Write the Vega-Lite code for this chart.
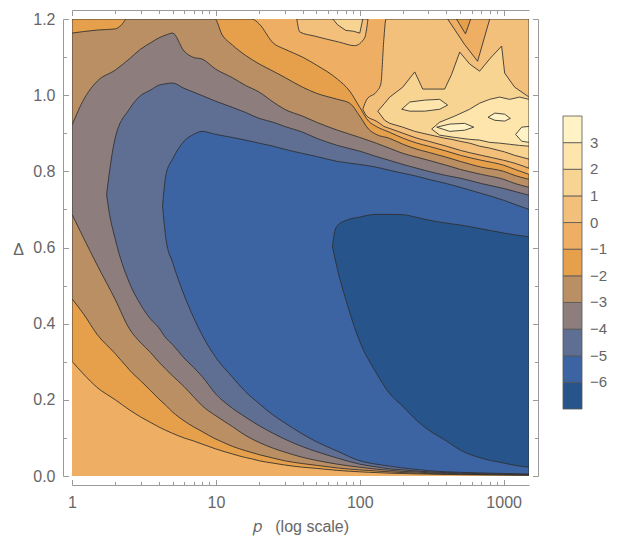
{
  "$schema": "https://vega.github.io/schema/vega-lite/v6.json",
  "width": 457,
  "height": 457,
  "autosize": {"type": "none"},
  "padding": {"left": 72, "top": 19, "right": 96, "bottom": 63},
  "config": {"view": {"stroke": null}, "font": "Liberation Sans"},
  "datasets": {
    "c": [
      {"r":"bg","v":-0.5,"p":1,"lo":0,"hi":1.2},{"r":"bg","v":-0.5,"p":1500,"lo":0,"hi":1.2},

      {"r":"S-1","v":-1.5,"p":1,"lo":0.301,"hi":1.2},
      {"r":"S-1","v":-1.5,"p":1.2,"lo":0.268,"hi":1.2},
      {"r":"S-1","v":-1.5,"p":1.5,"lo":0.232,"hi":1.2},
      {"r":"S-1","v":-1.5,"p":2,"lo":0.2,"hi":1.2},
      {"r":"S-1","v":-1.5,"p":2.5,"lo":0.174,"hi":1.2},
      {"r":"S-1","v":-1.5,"p":3,"lo":0.155,"hi":1.2},
      {"r":"S-1","v":-1.5,"p":3.5,"lo":0.141,"hi":1.2},
      {"r":"S-1","v":-1.5,"p":4,"lo":0.129,"hi":1.2},
      {"r":"S-1","v":-1.5,"p":5,"lo":0.112,"hi":1.2},
      {"r":"S-1","v":-1.5,"p":6,"lo":0.1,"hi":1.2},
      {"r":"S-1","v":-1.5,"p":7,"lo":0.092,"hi":1.2},
      {"r":"S-1","v":-1.5,"p":8,"lo":0.084,"hi":1.2},
      {"r":"S-1","v":-1.5,"p":10,"lo":0.071,"hi":1.2},
      {"r":"S-1","v":-1.5,"p":13,"lo":0.058,"hi":1.2},
      {"r":"S-1","v":-1.5,"p":16,"lo":0.0486,"hi":1.2},
      {"r":"S-1","v":-1.5,"p":17.8,"lo":0.045,"hi":1.2},
      {"r":"S-1","v":-1.5,"p":20,"lo":0.04,"hi":1.187},
      {"r":"S-1","v":-1.5,"p":25,"lo":0.0338,"hi":1.137},
      {"r":"S-1","v":-1.5,"p":30,"lo":0.029,"hi":1.121},
      {"r":"S-1","v":-1.5,"p":40,"lo":0.0231,"hi":1.1},
      {"r":"S-1","v":-1.5,"p":50,"lo":0.02,"hi":1.079},
      {"r":"S-1","v":-1.5,"p":70,"lo":0.0147,"hi":1.042},
      {"r":"S-1","v":-1.5,"p":85,"lo":0.0125,"hi":1.011},
      {"r":"S-1","v":-1.5,"p":100,"lo":0.011,"hi":0.968},
      {"r":"S-1","v":-1.5,"p":115,"lo":0.0098,"hi":0.932},
      {"r":"S-1","v":-1.5,"p":130,"lo":0.009,"hi":0.918},
      {"r":"S-1","v":-1.5,"p":160,"lo":0.0075,"hi":0.903},
      {"r":"S-1","v":-1.5,"p":200,"lo":0.0065,"hi":0.887},
      {"r":"S-1","v":-1.5,"p":250,"lo":0.0055,"hi":0.874},
      {"r":"S-1","v":-1.5,"p":300,"lo":0.005,"hi":0.866},
      {"r":"S-1","v":-1.5,"p":400,"lo":0.004,"hi":0.853},
      {"r":"S-1","v":-1.5,"p":500,"lo":0.0035,"hi":0.842},
      {"r":"S-1","v":-1.5,"p":700,"lo":0.003,"hi":0.829},
      {"r":"S-1","v":-1.5,"p":1000,"lo":0.0025,"hi":0.816},
      {"r":"S-1","v":-1.5,"p":1200,"lo":0.0022,"hi":0.805},
      {"r":"S-1","v":-1.5,"p":1500,"lo":0.002,"hi":0.792},

      {"r":"S-2","v":-2.5,"p":1,"lo":0.465,"hi":1.163},
      {"r":"S-2","v":-2.5,"p":1.2,"lo":0.426,"hi":1.167},
      {"r":"S-2","v":-2.5,"p":1.5,"lo":0.371,"hi":1.171},
      {"r":"S-2","v":-2.5,"p":2,"lo":0.321,"hi":1.174},
      {"r":"S-2","v":-2.5,"p":2.2,"lo":0.303,"hi":1.184},
      {"r":"S-2","v":-2.5,"p":2.4,"lo":0.287,"hi":1.2},
      {"r":"S-2","v":-2.5,"p":2.5,"lo":0.279,"hi":1.2},
      {"r":"S-2","v":-2.5,"p":3,"lo":0.25,"hi":1.2},
      {"r":"S-2","v":-2.5,"p":3.5,"lo":0.225,"hi":1.2},
      {"r":"S-2","v":-2.5,"p":4,"lo":0.203,"hi":1.2},
      {"r":"S-2","v":-2.5,"p":4.5,"lo":0.185,"hi":1.2},
      {"r":"S-2","v":-2.5,"p":5,"lo":0.168,"hi":1.2},
      {"r":"S-2","v":-2.5,"p":6,"lo":0.145,"hi":1.2},
      {"r":"S-2","v":-2.5,"p":7,"lo":0.129,"hi":1.2},
      {"r":"S-2","v":-2.5,"p":8,"lo":0.117,"hi":1.2},
      {"r":"S-2","v":-2.5,"p":9.85,"lo":0.098,"hi":1.2},
      {"r":"S-2","v":-2.5,"p":11,"lo":0.09,"hi":1.16},
      {"r":"S-2","v":-2.5,"p":13,"lo":0.078,"hi":1.132},
      {"r":"S-2","v":-2.5,"p":16,"lo":0.0666,"hi":1.105},
      {"r":"S-2","v":-2.5,"p":20,"lo":0.056,"hi":1.082},
      {"r":"S-2","v":-2.5,"p":25,"lo":0.047,"hi":1.063},
      {"r":"S-2","v":-2.5,"p":30,"lo":0.04,"hi":1.047},
      {"r":"S-2","v":-2.5,"p":40,"lo":0.0326,"hi":1.021},
      {"r":"S-2","v":-2.5,"p":50,"lo":0.028,"hi":1.005},
      {"r":"S-2","v":-2.5,"p":70,"lo":0.0211,"hi":0.989},
      {"r":"S-2","v":-2.5,"p":85,"lo":0.018,"hi":0.979},
      {"r":"S-2","v":-2.5,"p":100,"lo":0.016,"hi":0.945},
      {"r":"S-2","v":-2.5,"p":115,"lo":0.0145,"hi":0.911},
      {"r":"S-2","v":-2.5,"p":130,"lo":0.013,"hi":0.897},
      {"r":"S-2","v":-2.5,"p":160,"lo":0.011,"hi":0.887},
      {"r":"S-2","v":-2.5,"p":200,"lo":0.009,"hi":0.871},
      {"r":"S-2","v":-2.5,"p":250,"lo":0.0075,"hi":0.858},
      {"r":"S-2","v":-2.5,"p":300,"lo":0.0065,"hi":0.85},
      {"r":"S-2","v":-2.5,"p":400,"lo":0.0053,"hi":0.837},
      {"r":"S-2","v":-2.5,"p":500,"lo":0.0045,"hi":0.826},
      {"r":"S-2","v":-2.5,"p":700,"lo":0.0038,"hi":0.811},
      {"r":"S-2","v":-2.5,"p":1000,"lo":0.0033,"hi":0.8},
      {"r":"S-2","v":-2.5,"p":1200,"lo":0.003,"hi":0.789},
      {"r":"S-2","v":-2.5,"p":1500,"lo":0.0027,"hi":0.779},

      {"r":"S-3","v":-3.5,"p":1,"lo":0.687,"hi":0.921},
      {"r":"S-3","v":-3.5,"p":1.2,"lo":0.626,"hi":0.987},
      {"r":"S-3","v":-3.5,"p":1.5,"lo":0.553,"hi":1.037},
      {"r":"S-3","v":-3.5,"p":2,"lo":0.463,"hi":1.066},
      {"r":"S-3","v":-3.5,"p":2.5,"lo":0.387,"hi":1.095},
      {"r":"S-3","v":-3.5,"p":3,"lo":0.35,"hi":1.121},
      {"r":"S-3","v":-3.5,"p":3.5,"lo":0.325,"hi":1.137},
      {"r":"S-3","v":-3.5,"p":4,"lo":0.3,"hi":1.15},
      {"r":"S-3","v":-3.5,"p":4.5,"lo":0.28,"hi":1.158},
      {"r":"S-3","v":-3.5,"p":5,"lo":0.263,"hi":1.163},
      {"r":"S-3","v":-3.5,"p":6,"lo":0.235,"hi":1.116},
      {"r":"S-3","v":-3.5,"p":7,"lo":0.208,"hi":1.099},
      {"r":"S-3","v":-3.5,"p":8,"lo":0.185,"hi":1.095},
      {"r":"S-3","v":-3.5,"p":10,"lo":0.158,"hi":1.068},
      {"r":"S-3","v":-3.5,"p":13,"lo":0.13,"hi":1.046},
      {"r":"S-3","v":-3.5,"p":16,"lo":0.107,"hi":1.026},
      {"r":"S-3","v":-3.5,"p":20,"lo":0.088,"hi":1.008},
      {"r":"S-3","v":-3.5,"p":25,"lo":0.073,"hi":0.982},
      {"r":"S-3","v":-3.5,"p":30,"lo":0.063,"hi":0.963},
      {"r":"S-3","v":-3.5,"p":40,"lo":0.049,"hi":0.945},
      {"r":"S-3","v":-3.5,"p":50,"lo":0.041,"hi":0.929},
      {"r":"S-3","v":-3.5,"p":70,"lo":0.031,"hi":0.908},
      {"r":"S-3","v":-3.5,"p":100,"lo":0.023,"hi":0.889},
      {"r":"S-3","v":-3.5,"p":130,"lo":0.018,"hi":0.874},
      {"r":"S-3","v":-3.5,"p":160,"lo":0.015,"hi":0.861},
      {"r":"S-3","v":-3.5,"p":200,"lo":0.012,"hi":0.847},
      {"r":"S-3","v":-3.5,"p":250,"lo":0.0105,"hi":0.837},
      {"r":"S-3","v":-3.5,"p":300,"lo":0.0085,"hi":0.829},
      {"r":"S-3","v":-3.5,"p":400,"lo":0.007,"hi":0.816},
      {"r":"S-3","v":-3.5,"p":500,"lo":0.006,"hi":0.805},
      {"r":"S-3","v":-3.5,"p":700,"lo":0.005,"hi":0.792},
      {"r":"S-3","v":-3.5,"p":1000,"lo":0.0042,"hi":0.779},
      {"r":"S-3","v":-3.5,"p":1200,"lo":0.0038,"hi":0.768},
      {"r":"S-3","v":-3.5,"p":1500,"lo":0.0034,"hi":0.758},

      {"r":"S-4","v":-4.5,"p":1.74,"lo":0.739,"hi":0.739},
      {"r":"S-4","v":-4.5,"p":1.8,"lo":0.7,"hi":0.784},
      {"r":"S-4","v":-4.5,"p":2,"lo":0.621,"hi":0.889},
      {"r":"S-4","v":-4.5,"p":2.5,"lo":0.508,"hi":0.963},
      {"r":"S-4","v":-4.5,"p":3,"lo":0.45,"hi":0.999},
      {"r":"S-4","v":-4.5,"p":3.5,"lo":0.413,"hi":1.013},
      {"r":"S-4","v":-4.5,"p":4,"lo":0.39,"hi":1.026},
      {"r":"S-4","v":-4.5,"p":4.5,"lo":0.362,"hi":1.03},
      {"r":"S-4","v":-4.5,"p":5,"lo":0.345,"hi":1.032},
      {"r":"S-4","v":-4.5,"p":6,"lo":0.31,"hi":1.018},
      {"r":"S-4","v":-4.5,"p":7,"lo":0.285,"hi":1.008},
      {"r":"S-4","v":-4.5,"p":8,"lo":0.262,"hi":0.999},
      {"r":"S-4","v":-4.5,"p":10,"lo":0.215,"hi":0.984},
      {"r":"S-4","v":-4.5,"p":13,"lo":0.178,"hi":0.968},
      {"r":"S-4","v":-4.5,"p":16,"lo":0.155,"hi":0.955},
      {"r":"S-4","v":-4.5,"p":20,"lo":0.132,"hi":0.939},
      {"r":"S-4","v":-4.5,"p":25,"lo":0.112,"hi":0.929},
      {"r":"S-4","v":-4.5,"p":30,"lo":0.097,"hi":0.918},
      {"r":"S-4","v":-4.5,"p":40,"lo":0.077,"hi":0.903},
      {"r":"S-4","v":-4.5,"p":50,"lo":0.064,"hi":0.887},
      {"r":"S-4","v":-4.5,"p":70,"lo":0.047,"hi":0.868},
      {"r":"S-4","v":-4.5,"p":100,"lo":0.031,"hi":0.853},
      {"r":"S-4","v":-4.5,"p":130,"lo":0.024,"hi":0.839},
      {"r":"S-4","v":-4.5,"p":160,"lo":0.019,"hi":0.829},
      {"r":"S-4","v":-4.5,"p":200,"lo":0.016,"hi":0.818},
      {"r":"S-4","v":-4.5,"p":250,"lo":0.013,"hi":0.808},
      {"r":"S-4","v":-4.5,"p":300,"lo":0.011,"hi":0.8},
      {"r":"S-4","v":-4.5,"p":400,"lo":0.0088,"hi":0.789},
      {"r":"S-4","v":-4.5,"p":500,"lo":0.0075,"hi":0.782},
      {"r":"S-4","v":-4.5,"p":700,"lo":0.006,"hi":0.768},
      {"r":"S-4","v":-4.5,"p":1000,"lo":0.0052,"hi":0.755},
      {"r":"S-4","v":-4.5,"p":1200,"lo":0.0047,"hi":0.747},
      {"r":"S-4","v":-4.5,"p":1500,"lo":0.0042,"hi":0.737},

      {"r":"S-5","v":-5.5,"p":4.26,"lo":0.709,"hi":0.709},
      {"r":"S-5","v":-5.5,"p":4.5,"lo":0.621,"hi":0.792},
      {"r":"S-5","v":-5.5,"p":5,"lo":0.561,"hi":0.832},
      {"r":"S-5","v":-5.5,"p":6,"lo":0.476,"hi":0.879},
      {"r":"S-5","v":-5.5,"p":7,"lo":0.416,"hi":0.897},
      {"r":"S-5","v":-5.5,"p":8,"lo":0.371,"hi":0.905},
      {"r":"S-5","v":-5.5,"p":10,"lo":0.311,"hi":0.897},
      {"r":"S-5","v":-5.5,"p":13,"lo":0.26,"hi":0.889},
      {"r":"S-5","v":-5.5,"p":16,"lo":0.222,"hi":0.882},
      {"r":"S-5","v":-5.5,"p":20,"lo":0.19,"hi":0.874},
      {"r":"S-5","v":-5.5,"p":25,"lo":0.16,"hi":0.866},
      {"r":"S-5","v":-5.5,"p":30,"lo":0.14,"hi":0.858},
      {"r":"S-5","v":-5.5,"p":40,"lo":0.11,"hi":0.847},
      {"r":"S-5","v":-5.5,"p":50,"lo":0.09,"hi":0.839},
      {"r":"S-5","v":-5.5,"p":70,"lo":0.065,"hi":0.826},
      {"r":"S-5","v":-5.5,"p":100,"lo":0.04,"hi":0.818},
      {"r":"S-5","v":-5.5,"p":130,"lo":0.031,"hi":0.811},
      {"r":"S-5","v":-5.5,"p":160,"lo":0.026,"hi":0.803},
      {"r":"S-5","v":-5.5,"p":200,"lo":0.021,"hi":0.795},
      {"r":"S-5","v":-5.5,"p":250,"lo":0.017,"hi":0.787},
      {"r":"S-5","v":-5.5,"p":300,"lo":0.014,"hi":0.779},
      {"r":"S-5","v":-5.5,"p":400,"lo":0.011,"hi":0.768},
      {"r":"S-5","v":-5.5,"p":500,"lo":0.0095,"hi":0.758},
      {"r":"S-5","v":-5.5,"p":700,"lo":0.008,"hi":0.742},
      {"r":"S-5","v":-5.5,"p":1000,"lo":0.0066,"hi":0.724},
      {"r":"S-5","v":-5.5,"p":1200,"lo":0.006,"hi":0.713},
      {"r":"S-5","v":-5.5,"p":1500,"lo":0.0052,"hi":0.7},

      {"r":"S-6","v":-6.5,"p":64.6,"lo":0.603,"hi":0.603},
      {"r":"S-6","v":-6.5,"p":67,"lo":0.574,"hi":0.642},
      {"r":"S-6","v":-6.5,"p":70,"lo":0.542,"hi":0.658},
      {"r":"S-6","v":-6.5,"p":80,"lo":0.463,"hi":0.671},
      {"r":"S-6","v":-6.5,"p":100,"lo":0.353,"hi":0.68},
      {"r":"S-6","v":-6.5,"p":130,"lo":0.271,"hi":0.687},
      {"r":"S-6","v":-6.5,"p":160,"lo":0.218,"hi":0.687},
      {"r":"S-6","v":-6.5,"p":200,"lo":0.182,"hi":0.686},
      {"r":"S-6","v":-6.5,"p":250,"lo":0.145,"hi":0.679},
      {"r":"S-6","v":-6.5,"p":300,"lo":0.121,"hi":0.672},
      {"r":"S-6","v":-6.5,"p":400,"lo":0.092,"hi":0.664},
      {"r":"S-6","v":-6.5,"p":500,"lo":0.068,"hi":0.659},
      {"r":"S-6","v":-6.5,"p":700,"lo":0.047,"hi":0.649},
      {"r":"S-6","v":-6.5,"p":1000,"lo":0.034,"hi":0.638},
      {"r":"S-6","v":-6.5,"p":1200,"lo":0.028,"hi":0.633},
      {"r":"S-6","v":-6.5,"p":1500,"lo":0.023,"hi":0.628},

      {"r":"T0","v":0.5,"p":105,"lo":0.963,"hi":0.963},
      {"r":"T0","v":0.5,"p":112,"lo":0.945,"hi":0.989},
      {"r":"T0","v":0.5,"p":130,"lo":0.932,"hi":1.008},
      {"r":"T0","v":0.5,"p":140,"lo":0.924,"hi":1.029},
      {"r":"T0","v":0.5,"p":147,"lo":0.918,"hi":1.147},
      {"r":"T0","v":0.5,"p":152,"lo":0.916,"hi":1.2},
      {"r":"T0","v":0.5,"p":160,"lo":0.913,"hi":1.2},
      {"r":"T0","v":0.5,"p":200,"lo":0.9,"hi":1.2},
      {"r":"T0","v":0.5,"p":250,"lo":0.887,"hi":1.2},
      {"r":"T0","v":0.5,"p":300,"lo":0.879,"hi":1.2},
      {"r":"T0","v":0.5,"p":400,"lo":0.866,"hi":1.2},
      {"r":"T0","v":0.5,"p":500,"lo":0.855,"hi":1.2},
      {"r":"T0","v":0.5,"p":700,"lo":0.842,"hi":1.2},
      {"r":"T0","v":0.5,"p":1000,"lo":0.829,"hi":1.2},
      {"r":"T0","v":0.5,"p":1200,"lo":0.821,"hi":1.2},
      {"r":"T0","v":0.5,"p":1500,"lo":0.808,"hi":1.2},

      {"r":"T0b","v":0.5,"p":36.5,"lo":1.2,"hi":1.2},
      {"r":"T0b","v":0.5,"p":38.3,"lo":1.166,"hi":1.2},
      {"r":"T0b","v":0.5,"p":48.7,"lo":1.155,"hi":1.2},
      {"r":"T0b","v":0.5,"p":58.9,"lo":1.147,"hi":1.2},
      {"r":"T0b","v":0.5,"p":72.5,"lo":1.139,"hi":1.2},
      {"r":"T0b","v":0.5,"p":92,"lo":1.13,"hi":1.2},
      {"r":"T0b","v":0.5,"p":108,"lo":1.15,"hi":1.2},
      {"r":"T0b","v":0.5,"p":114,"lo":1.2,"hi":1.2},

      {"r":"T1","v":1.5,"p":133.4,"lo":0.958,"hi":0.958},
      {"r":"T1","v":1.5,"p":149,"lo":0.934,"hi":0.979},
      {"r":"T1","v":1.5,"p":161.6,"lo":0.926,"hi":0.995},
      {"r":"T1","v":1.5,"p":199,"lo":0.916,"hi":1.021},
      {"r":"T1","v":1.5,"p":241,"lo":0.905,"hi":1.061},
      {"r":"T1","v":1.5,"p":274,"lo":0.9,"hi":1.016},
      {"r":"T1","v":1.5,"p":389,"lo":0.887,"hi":1.016},
      {"r":"T1","v":1.5,"p":435,"lo":0.884,"hi":1.055},
      {"r":"T1","v":1.5,"p":495,"lo":0.879,"hi":1.113},
      {"r":"T1","v":1.5,"p":580,"lo":0.874,"hi":1.082},
      {"r":"T1","v":1.5,"p":681,"lo":0.866,"hi":1.063},
      {"r":"T1","v":1.5,"p":799,"lo":0.861,"hi":1.095},
      {"r":"T1","v":1.5,"p":968,"lo":0.853,"hi":1.129},
      {"r":"T1","v":1.5,"p":1016,"lo":0.851,"hi":1.058},
      {"r":"T1","v":1.5,"p":1192,"lo":0.842,"hi":1.021},
      {"r":"T1","v":1.5,"p":1500,"lo":0.832,"hi":0.995},

      {"r":"T1b","v":1.5,"p":65,"lo":1.2,"hi":1.2},
      {"r":"T1b","v":1.5,"p":70,"lo":1.185,"hi":1.2},
      {"r":"T1b","v":1.5,"p":80,"lo":1.17,"hi":1.2},
      {"r":"T1b","v":1.5,"p":90,"lo":1.168,"hi":1.2},
      {"r":"T1b","v":1.5,"p":100,"lo":1.163,"hi":1.2},
      {"r":"T1b","v":1.5,"p":105,"lo":1.2,"hi":1.2},

      {"r":"V","v":-0.5,"p":408,"lo":1.2,"hi":1.2},
      {"r":"V","v":-0.5,"p":533,"lo":1.134,"hi":1.2},
      {"r":"V","v":-0.5,"p":659,"lo":1.089,"hi":1.2},
      {"r":"V","v":-0.5,"p":800,"lo":1.2,"hi":1.2},

      {"r":"Vs","v":-1.5,"p":470,"lo":1.2,"hi":1.2},
      {"r":"Vs","v":-1.5,"p":543,"lo":1.161,"hi":1.2},
      {"r":"Vs","v":-1.5,"p":590,"lo":1.2,"hi":1.2},

      {"r":"T2a","v":2.5,"p":195.7,"lo":0.963,"hi":0.963},
      {"r":"T2a","v":2.5,"p":222.5,"lo":0.958,"hi":0.982},
      {"r":"T2a","v":2.5,"p":282.6,"lo":0.958,"hi":0.987},
      {"r":"T2a","v":2.5,"p":359.4,"lo":0.963,"hi":0.989},
      {"r":"T2a","v":2.5,"p":408,"lo":0.974,"hi":0.974},

      {"r":"T2b","v":2.5,"p":316,"lo":0.911,"hi":0.911},
      {"r":"T2b","v":2.5,"p":359,"lo":0.895,"hi":0.929},
      {"r":"T2b","v":2.5,"p":457,"lo":0.889,"hi":0.945},
      {"r":"T2b","v":2.5,"p":580,"lo":0.884,"hi":0.963},
      {"r":"T2b","v":2.5,"p":681,"lo":0.882,"hi":0.979},
      {"r":"T2b","v":2.5,"p":799,"lo":0.876,"hi":0.989},
      {"r":"T2b","v":2.5,"p":937,"lo":0.874,"hi":0.995},
      {"r":"T2b","v":2.5,"p":1101,"lo":0.871,"hi":0.989},
      {"r":"T2b","v":2.5,"p":1291,"lo":0.868,"hi":0.995},
      {"r":"T2b","v":2.5,"p":1500,"lo":0.866,"hi":0.989},

      {"r":"T3a","v":3.5,"p":778,"lo":0.942,"hi":0.942},
      {"r":"T3a","v":3.5,"p":869,"lo":0.934,"hi":0.953},
      {"r":"T3a","v":3.5,"p":1016,"lo":0.932,"hi":0.95},
      {"r":"T3a","v":3.5,"p":1113,"lo":0.939,"hi":0.939},
      {"r":"T3b","v":3.5,"p":342.7,"lo":0.916,"hi":0.916},
      {"r":"T3b","v":3.5,"p":421.7,"lo":0.905,"hi":0.924},
      {"r":"T3b","v":3.5,"p":535.8,"lo":0.908,"hi":0.926},
      {"r":"T3b","v":3.5,"p":619,"lo":0.916,"hi":0.916},
      {"r":"T3c","v":3.5,"p":1211,"lo":0.897,"hi":0.897},
      {"r":"T3c","v":3.5,"p":1334,"lo":0.879,"hi":0.916},
      {"r":"T3c","v":3.5,"p":1500,"lo":0.876,"hi":0.918}
    ]
  },
  "data": {"name": "c"},
  "resolve": {"axis": {"x": "independent", "y": "independent"}},
  "layer": [
    {
      "encoding": {
        "x": {
          "field": "p", "type": "quantitative",
          "scale": {"type": "log", "domain": [1, 1500], "nice": false, "zero": false},
          "axis": {
            "orient": "bottom",
            "values": [1, 10, 100, 1000],
            "format": "d",
            "ticks": false, "domain": false, "labelPadding": 9, "offset": 9,
            "labelColor": "#666", "labelFont": "Liberation Sans", "labelFontSize": 16,
            "labelFlush": false, "labelOverlap": false, "grid": false,
            "title": "𝑝\u00a0\u00a0\u00a0(log scale)", "titleFont": "Liberation Sans", "titleFontSize": 16,
            "titleFontWeight": "normal", "titleColor": "#666", "titlePadding": 8
          }
        },
        "y": {
          "field": "lo", "type": "quantitative",
          "scale": {"domain": [0, 1.2], "nice": false, "zero": false},
          "axis": {
            "orient": "left",
            "values": [0, 0.2, 0.4, 0.6, 0.8, 1, 1.2],
            "format": ".1f",
            "ticks": false, "domain": false, "labelPadding": 8, "offset": 9,
            "labelColor": "#666", "labelFont": "Liberation Sans", "labelFontSize": 16,
            "labelOverlap": false, "grid": false,
            "title": "Δ", "titleAngle": 0, "titleFont": "Liberation Sans", "titleFontSize": 16,
            "titleFontWeight": "normal", "titleColor": "#666",
            "titleAlign": "center", "titleBaseline": "middle", "titleX": -45, "titleY": 230
          }
        },
        "y2": {"field": "hi"},
        "detail": {"field": "r"},
        "color": {
          "field": "v", "type": "quantitative",
          "scale": {
            "type": "threshold",
            "domain": [-6,-5,-4,-3,-2,-1,0,1,2,3],
            "range": ["#27558b","#3c63a2","#5f6e93","#8d7e7d","#ba8f64","#e6a04b","#eeaf64","#f3c07c","#f8d493","#fde5ab","#fff2c4"]
          },
          "legend": {
            "type": "gradient", "orient": "none", "legendX": 491, "legendY": 97,
            "direction": "vertical", "gradientLength": 293, "gradientThickness": 19,
            "title": null, "labelFontSize": 15, "labelColor": "#666", "labelFont": "Liberation Sans",
            "labelExpr": "datum.label ? replace(datum.label, '-', '\u2212') : ''",
            "labelOffset": 8, "gradientStrokeColor": "#555", "gradientStrokeWidth": 0.8
          }
        }
      },
      "layer": [
        {"transform": [{"filter": {"field": "r", "equal": "bg"}}], "mark": {"type": "area", "clip": true}},
        {"transform": [{"filter": {"field": "r", "equal": "S-1"}}], "mark": {"type": "area", "clip": true, "interpolate": "monotone", "stroke": "#2e2e2e", "strokeWidth": 1, "strokeOpacity": 0.85}},
        {"transform": [{"filter": {"field": "r", "equal": "S-2"}}], "mark": {"type": "area", "clip": true, "interpolate": "monotone", "stroke": "#2e2e2e", "strokeWidth": 1, "strokeOpacity": 0.85}},
        {"transform": [{"filter": {"field": "r", "equal": "S-3"}}], "mark": {"type": "area", "clip": true, "interpolate": "monotone", "stroke": "#2e2e2e", "strokeWidth": 1, "strokeOpacity": 0.85}},
        {"transform": [{"filter": {"field": "r", "equal": "S-4"}}], "mark": {"type": "area", "clip": true, "interpolate": "monotone", "stroke": "#2e2e2e", "strokeWidth": 1, "strokeOpacity": 0.85}},
        {"transform": [{"filter": {"field": "r", "equal": "S-5"}}], "mark": {"type": "area", "clip": true, "interpolate": "monotone", "stroke": "#2e2e2e", "strokeWidth": 1, "strokeOpacity": 0.85}},
        {"transform": [{"filter": {"field": "r", "equal": "S-6"}}], "mark": {"type": "area", "clip": true, "interpolate": "monotone", "stroke": "#2e2e2e", "strokeWidth": 1, "strokeOpacity": 0.85}},
        {"transform": [{"filter": {"field": "r", "oneOf": ["T0", "T0b"]}}], "mark": {"type": "area", "clip": true, "interpolate": "monotone", "stroke": "#2e2e2e", "strokeWidth": 1, "strokeOpacity": 0.85}},
        {"transform": [{"filter": {"field": "r", "oneOf": ["T1", "T1b", "V"]}}], "mark": {"type": "area", "clip": true, "interpolate": "linear", "stroke": "#2e2e2e", "strokeWidth": 1, "strokeOpacity": 0.85}},
        {"transform": [{"filter": {"field": "r", "oneOf": ["Vs", "T2a", "T2b"]}}], "mark": {"type": "area", "clip": true, "interpolate": "linear", "stroke": "#2e2e2e", "strokeWidth": 1, "strokeOpacity": 0.85}},
        {"transform": [{"filter": {"field": "r", "oneOf": ["T3a", "T3b", "T3c"]}}], "mark": {"type": "area", "clip": true, "interpolate": "linear", "stroke": "#2e2e2e", "strokeWidth": 1, "strokeOpacity": 0.85}}
      ]
    },
    {
      "transform": [{"filter": {"field": "r", "equal": "bg"}}],
      "mark": {"type": "area", "opacity": 0},
      "encoding": {
        "x": {
          "field": "p", "type": "quantitative",
          "scale": {"type": "log", "domain": [1, 1500], "nice": false, "zero": false},
          "axis": {"orient": "top", "offset": -466, "values": [1, 10, 100, 1000], "labels": false, "tickSize": 5.5, "domain": true, "domainColor": "#9a9a9a", "tickColor": "#9a9a9a", "grid": false, "title": null}
        },
        "y": {
          "field": "lo", "type": "quantitative",
          "scale": {"domain": [0, 1.2], "nice": false, "zero": false},
          "axis": {"orient": "right", "offset": -466, "values": [0, 0.2, 0.4, 0.6, 0.8, 1, 1.2], "labels": false, "tickSize": 5.5, "domain": true, "domainColor": "#9a9a9a", "tickColor": "#9a9a9a", "grid": false, "title": null}
        },
        "y2": {"field": "hi"}
      }
    },
    {
      "transform": [{"filter": {"field": "r", "equal": "bg"}}],
      "mark": {"type": "area", "opacity": 0},
      "encoding": {
        "x": {
          "field": "p", "type": "quantitative",
          "scale": {"type": "log", "domain": [1, 1500], "nice": false, "zero": false},
          "axis": {"orient": "top", "offset": -466, "values": [2,3,4,5,6,7,8,9,20,30,40,50,60,70,80,90,200,300,400,500,600,700,800,900], "labels": false, "tickSize": 3.5, "domain": false, "tickColor": "#9a9a9a", "grid": false, "title": null}
        },
        "y": {
          "field": "lo", "type": "quantitative",
          "scale": {"domain": [0, 1.2], "nice": false, "zero": false},
          "axis": {"orient": "right", "offset": -466, "values": [0.1, 0.3, 0.5, 0.7, 0.9, 1.1], "labels": false, "tickSize": 3.5, "domain": false, "tickColor": "#9a9a9a", "grid": false, "title": null}
        },
        "y2": {"field": "hi"}
      }
    },
    {
      "transform": [{"filter": {"field": "r", "equal": "bg"}}],
      "mark": {"type": "area", "opacity": 0},
      "encoding": {
        "x": {
          "field": "p", "type": "quantitative",
          "scale": {"type": "log", "domain": [1, 1500], "nice": false, "zero": false},
          "axis": {"orient": "bottom", "offset": -466, "values": [1, 10, 100, 1000], "labels": false, "tickSize": 5.5, "domain": true, "domainColor": "#9a9a9a", "tickColor": "#9a9a9a", "grid": false, "title": null}
        },
        "y": {
          "field": "lo", "type": "quantitative",
          "scale": {"domain": [0, 1.2], "nice": false, "zero": false},
          "axis": {"orient": "left", "offset": -466, "values": [0, 0.2, 0.4, 0.6, 0.8, 1, 1.2], "labels": false, "tickSize": 5.5, "domain": true, "domainColor": "#9a9a9a", "tickColor": "#9a9a9a", "grid": false, "title": null}
        },
        "y2": {"field": "hi"}
      }
    },
    {
      "transform": [{"filter": {"field": "r", "equal": "bg"}}],
      "mark": {"type": "area", "opacity": 0},
      "encoding": {
        "x": {
          "field": "p", "type": "quantitative",
          "scale": {"type": "log", "domain": [1, 1500], "nice": false, "zero": false},
          "axis": {"orient": "bottom", "offset": -466, "values": [2,3,4,5,6,7,8,9,20,30,40,50,60,70,80,90,200,300,400,500,600,700,800,900], "labels": false, "tickSize": 3.5, "domain": false, "tickColor": "#9a9a9a", "grid": false, "title": null}
        },
        "y": {
          "field": "lo", "type": "quantitative",
          "scale": {"domain": [0, 1.2], "nice": false, "zero": false},
          "axis": {"orient": "left", "offset": -466, "values": [0.1, 0.3, 0.5, 0.7, 0.9, 1.1], "labels": false, "tickSize": 3.5, "domain": false, "tickColor": "#9a9a9a", "grid": false, "title": null}
        },
        "y2": {"field": "hi"}
      }
    }
  ]
}
